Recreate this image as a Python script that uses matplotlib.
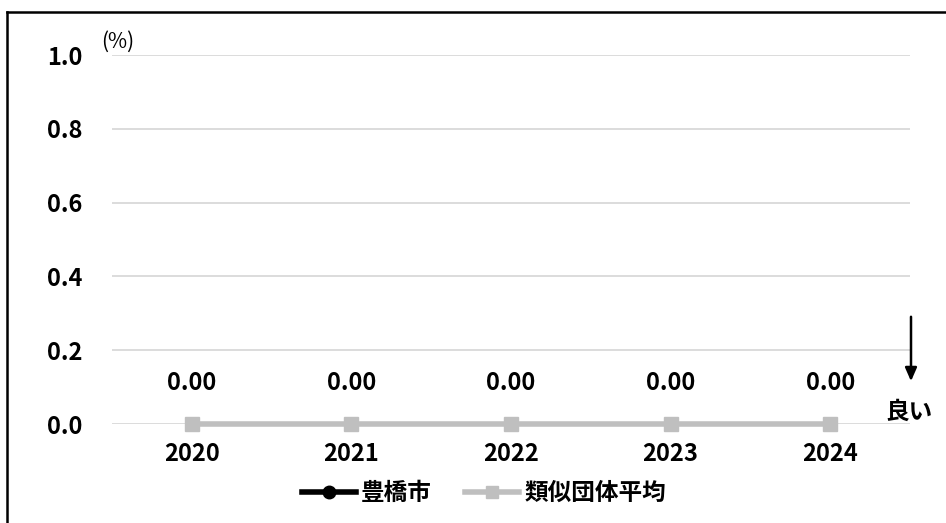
import numpy as np
import matplotlib
matplotlib.use('Agg')
import matplotlib.pyplot as plt
from matplotlib.lines import Line2D

plt.rcParams['font.family'] = ['Noto Sans CJK JP', 'DejaVu Sans']
plt.rcParams['font.weight'] = 'bold'

years = ['2020', '2021', '2022', '2023', '2024']
toyohashi = [np.nan, np.nan, np.nan, np.nan, np.nan]
similar_avg = [0.00, 0.00, 0.00, 0.00, 0.00]
yticks = [0.0, 0.2, 0.4, 0.6, 0.8, 1.0]

FS = 17
W, H = 946, 523
fig = plt.figure(figsize=(W / 100, H / 100), dpi=100)
ax = fig.add_axes([112 / W, 1 - 424 / H, (910 - 112) / W, (424 - 55) / H])

x = np.arange(len(years))
ax.plot(x, similar_avg, color='#BFBFBF', lw=4, marker='s', ms=10, zorder=3, clip_on=False)
ax.plot(x, toyohashi, color='black', lw=4, marker='o', ms=9, zorder=4, clip_on=False)

for xi, v in zip(x, similar_avg):
    ax.annotate(f'{v:.2f}', (xi, v), xytext=(0, 29.5), textcoords='offset points',
                ha='center', va='center', fontsize=FS, fontweight='bold')

ax.set_xlim(-0.5, len(years) - 0.5)
ax.set_ylim(0, 1.0)
ax.set_yticks(yticks)
ax.set_yticklabels([f'{t:.1f}' for t in yticks])
ax.set_xticks(x)
ax.set_xticklabels(years)
ax.tick_params(length=0, labelsize=FS)
ax.tick_params(axis='x', pad=13)
ax.tick_params(axis='y', pad=21)
for lab in ax.get_xticklabels() + ax.get_yticklabels():
    lab.set_fontweight('bold')
ax.yaxis.grid(True, color='#D9D9D9', lw=1.3)
ax.set_axisbelow(True)
for s in ax.spines.values():
    s.set_visible(False)

fig.text(118 / W, 1 - 42 / H, '(%)', ha='center', va='center', fontsize=15, fontweight='normal')

# arrow and "良い"
ax.annotate('', xy=(911 / W, 1 - 384 / H), xytext=(911 / W, 1 - 314 / H),
            xycoords='figure fraction', textcoords='figure fraction',
            arrowprops=dict(arrowstyle='-|>,head_width=0.35,head_length=0.8', color='black', lw=1.8))
fig.text(909 / W, 1 - 412 / H, '良い', ha='center', va='center', fontsize=FS, fontweight='bold')

handles = [Line2D([], [], color='black', lw=4, marker='o', ms=9),
           Line2D([], [], color='#BFBFBF', lw=4, marker='s', ms=9)]
fig.legend(handles, ['豊橋市', '類似団体平均'], loc='center', bbox_to_anchor=(484 / W, 1 - 493 / H),
           ncol=2, frameon=False, fontsize=FS, handlelength=2.3, handletextpad=0.2,
           columnspacing=1.4, borderpad=0, borderaxespad=0)

# frame on left and top
fig.add_artist(Line2D([7 / W, 7 / W], [0, 1 - 12 / H], color='black', lw=1.8, transform=fig.transFigure))
fig.add_artist(Line2D([6.5 / W, 1], [1 - 12 / H, 1 - 12 / H], color='black', lw=1.8, transform=fig.transFigure))

fig.savefig('out.png', dpi=100)
